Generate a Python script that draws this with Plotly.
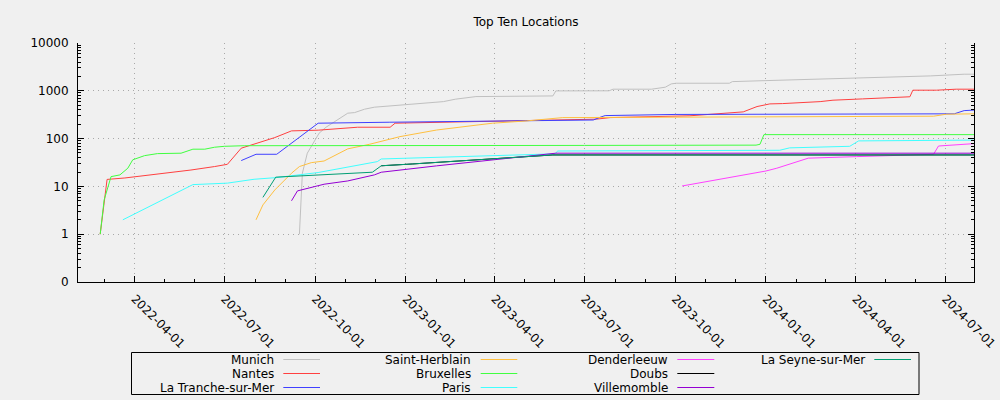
import plotly.graph_objects as go

# ---------------- data ----------------
munich_dates = ["2022-09-15", "2022-09-18", "2022-09-23", "2022-09-26", "2022-10-01", "2022-10-05",
                "2022-10-12", "2022-11-03", "2022-11-10", "2022-11-20", "2022-11-30", "2023-01-01",
                "2023-02-08", "2023-02-20", "2023-03-13", "2023-05-30", "2023-06-02", "2023-07-26",
                "2023-07-30", "2023-09-07", "2023-09-21", "2023-09-27", "2023-10-02", "2023-11-25",
                "2023-11-28", "2024-01-01", "2024-02-28", "2024-03-26", "2024-04-29", "2024-06-16",
                "2024-07-20", "2024-07-30"]
munich_vals = [1, 18.9, 49.5, 63, 93.6, 130, 173, 340, 350, 412, 454, 507, 594, 667, 757, 781, 995,
               1000, 1080, 1080, 1190, 1393, 1440, 1440, 1557, 1634, 1750, 1836, 1930, 2050, 2224, 2224]

nantes_dates = ["2022-02-25", "2022-03-04", "2022-03-22", "2022-04-24", "2022-05-28", "2022-06-21",
                "2022-07-04", "2022-07-18", "2022-08-21", "2022-09-07", "2022-10-04", "2022-11-13",
                "2022-12-16", "2022-12-21", "2023-06-13", "2023-07-13", "2023-07-27", "2023-09-26",
                "2023-10-16", "2023-12-09", "2023-12-23", "2024-01-05", "2024-01-18", "2024-02-25",
                "2024-03-09", "2024-04-08", "2024-05-16", "2024-05-26", "2024-05-29", "2024-06-22",
                "2024-07-12", "2024-07-30"]
nantes_vals = [1, 14, 15, 18, 22, 26, 29, 63, 105, 145, 150, 173, 173, 210, 255, 255, 275, 298, 300,
               362, 468, 532, 540, 594, 636, 677, 745, 750, 1030, 1030, 1080, 1080]

tranche_dates = ["2022-07-18", "2022-08-02", "2022-08-23", "2022-10-04", "2022-12-15", "2023-05-30",
                 "2023-07-10", "2023-07-17", "2023-07-22", "2023-10-01", "2024-07-10", "2024-07-20",
                 "2024-07-30"]
tranche_vals = [34.7, 47, 47, 210, 220, 240, 245, 280, 303, 320, 330, 385, 395]

herblain_dates = ["2022-08-02", "2022-08-09", "2022-08-21", "2022-09-07", "2022-09-15", "2022-09-27",
                  "2022-10-10", "2022-11-03", "2022-11-25", "2022-12-26", "2023-02-01", "2023-02-28",
                  "2023-03-16", "2023-03-30", "2023-05-03", "2023-06-09", "2023-10-01", "2024-06-19",
                  "2024-07-02", "2024-07-30"]
herblain_vals = [2, 4.1, 8.4, 18.9, 26, 31.4, 34, 61, 76, 110, 151, 173, 194, 210, 234, 275, 280, 294,
                 324, 330]

bruxelles_dates = ["2022-02-25", "2022-03-01", "2022-03-08", "2022-03-17", "2022-03-25", "2022-03-30",
                   "2022-04-11", "2022-04-24", "2022-05-18", "2022-05-30", "2022-06-11", "2022-06-21",
                   "2022-07-01", "2022-07-21", "2023-07-01", "2023-12-22", "2023-12-26", "2023-12-30",
                   "2024-07-30"]
bruxelles_vals = [1, 5.2, 16, 17.4, 24, 36, 44, 48.5, 49.5, 60, 60, 66, 69, 71, 72, 73, 76, 121, 121]

paris_dates = ["2022-03-20", "2022-05-30", "2022-07-04", "2022-07-31", "2022-08-23", "2022-10-04",
               "2022-12-03", "2022-12-07", "2023-06-01", "2023-06-04", "2024-01-15", "2024-01-25",
               "2024-03-26", "2024-04-04", "2024-07-30"]
paris_vals = [2, 10.9, 11.7, 14.1, 15.3, 19.5, 33, 37.5, 48, 55, 57, 64, 69, 89.5, 93]

dender_dates = ["2023-10-08", "2024-01-01", "2024-01-12", "2024-02-13", "2024-04-02", "2024-06-19",
                "2024-06-24", "2024-07-30"]
dender_vals = [10.2, 21, 24, 39, 42, 47, 70, 78.5]

doubs_dates = ["2022-12-07", "2023-01-08", "2023-05-30", "2024-07-30"]
doubs_vals = [27, 29.5, 45.5, 45.5]

ville_dates = ["2022-09-07", "2022-09-13", "2022-10-10", "2022-11-03", "2022-11-30", "2022-12-07",
               "2023-02-01", "2023-05-30", "2023-06-02", "2024-07-30"]
ville_vals = [5, 8.05, 11.1, 13, 17.4, 19.8, 26.9, 47.8, 49.5, 49.5]

seyne_dates = ["2022-08-09", "2022-08-22", "2022-11-28", "2022-12-07", "2023-01-08", "2023-05-30",
               "2024-07-30"]
seyne_vals = [5.9, 15.6, 19.8, 27, 29.5, 45.5, 45.5]

series_names = ["Munich", "Nantes", "La Tranche-sur-Mer", "Saint-Herblain", "Bruxelles", "Paris",
                "Denderleeuw", "Doubs", "Villemomble", "La Seyne-sur-Mer"]
series_dates = [munich_dates, nantes_dates, tranche_dates, herblain_dates, bruxelles_dates,
                paris_dates, dender_dates, doubs_dates, ville_dates, seyne_dates]
series_vals = [munich_vals, nantes_vals, tranche_vals, herblain_vals, bruxelles_vals, paris_vals,
               dender_vals, doubs_vals, ville_vals, seyne_vals]
series_colors = ["#c0c0c0", "#ff4040", "#4040ff", "#ffc040", "#40ff40", "#40ffff", "#ff40ff",
                 "#000000", "#9400d3", "#009e73"]

x_tick_vals = ["2022-04-01", "2022-07-01", "2022-10-01", "2023-01-01", "2023-04-01", "2023-07-01",
               "2023-10-01", "2024-01-01", "2024-04-01", "2024-07-01"]
y_tick_vals = [0.1, 1, 10, 100, 1000, 10000]
y_tick_text = ["0", "1", "10", "100", "1000", "10000"]

# ---------------- figure ----------------
W, H = 1000, 400
ML, MR, MT, MB = 78, 26, 43, 118
FONT = "DejaVu Sans"

fig = go.Figure()
for name, d, v, c in zip(series_names, series_dates, series_vals, series_colors):
    fig.add_trace(go.Scatter(x=d, y=v, mode="lines", name=name,
                             line=dict(color=c, width=1), showlegend=False))

minor_y = [m * 10 ** e for e in range(-1, 4) for m in range(2, 10)]

fig.update_layout(
    width=W, height=H,
    margin=dict(l=ML, r=MR, t=MT, b=MB, autoexpand=False),
    paper_bgcolor="#f0f0f0", plot_bgcolor="#f0f0f0",
    font=dict(family=FONT, size=12, color="#000000"),
    title=dict(text="Top Ten Locations", x=(ML + (W - MR)) / 2 / W, xanchor="center",
               y=1 - 22 / H, yanchor="middle", font=dict(size=12)),
)

fig.update_xaxes(
    type="date", range=["2022-02-02 12:00", "2024-07-30"], automargin=False,
    tickmode="array", tickvals=x_tick_vals, ticktext=x_tick_vals, tickangle=45,
    ticks="inside", ticklen=6, tickcolor="#000000", tickwidth=1,
    showline=True, linecolor="#000000", linewidth=1, mirror=False,
    showgrid=True, gridcolor="#a8a8a8", griddash="1px,4px", gridwidth=1,
    zeroline=False,
    minor=dict(dtick="M1", tick0="2022-01-01", ticks="inside", ticklen=3, tickcolor="#000000",
               showgrid=False),
    ticklabelstandoff=4,
)

fig.update_yaxes(
    type="log", range=[-1, 4], automargin=False,
    tickmode="array", tickvals=y_tick_vals, ticktext=y_tick_text,
    ticks="inside", ticklen=6, tickcolor="#000000", tickwidth=1,
    showline=True, linecolor="#000000", linewidth=1, mirror="allticks",
    showgrid=True, gridcolor="#a8a8a8", griddash="1px,4px", gridwidth=1,
    zeroline=False,
    minor=dict(tickmode="array", tickvals=minor_y, ticks="inside", ticklen=3,
               tickcolor="#000000", showgrid=False),
    ticklabelstandoff=6,
)

# ---------------- manual legend (gnuplot style) ----------------
PW = W - ML - MR
PH = H - MT - MB


def px2x(px):
    return (px - ML) / PW


def py2y(py):
    return (H - MB - py) / PH


fig.add_shape(type="rect", xref="paper", yref="paper",
              x0=px2x(131.5), x1=px2x(919), y0=py2y(352.5), y1=py2y(394.5),
              line=dict(color="#000000", width=1), fillcolor="rgba(0,0,0,0)")

col_text_right = [275, 471.7, 669, 865.7]
col_line = [(283.3, 320), (480.7, 517.3), (677.3, 714.3), (874.3, 911)]
row_y = [359.5, 373.5, 387.5]

for i, (name, c) in enumerate(zip(series_names, series_colors)):
    col, row = divmod(i, 3)
    fig.add_annotation(xref="paper", yref="paper", x=px2x(col_text_right[col]), y=py2y(row_y[row]),
                       text=name, showarrow=False, xanchor="right", yanchor="middle",
                       borderpad=0, font=dict(size=12, family=FONT))
    fig.add_shape(type="line", xref="paper", yref="paper",
                  x0=px2x(col_line[col][0]), x1=px2x(col_line[col][1]),
                  y0=py2y(row_y[row]), y1=py2y(row_y[row]),
                  line=dict(color=c, width=1))

fig.write_html("out.html")
